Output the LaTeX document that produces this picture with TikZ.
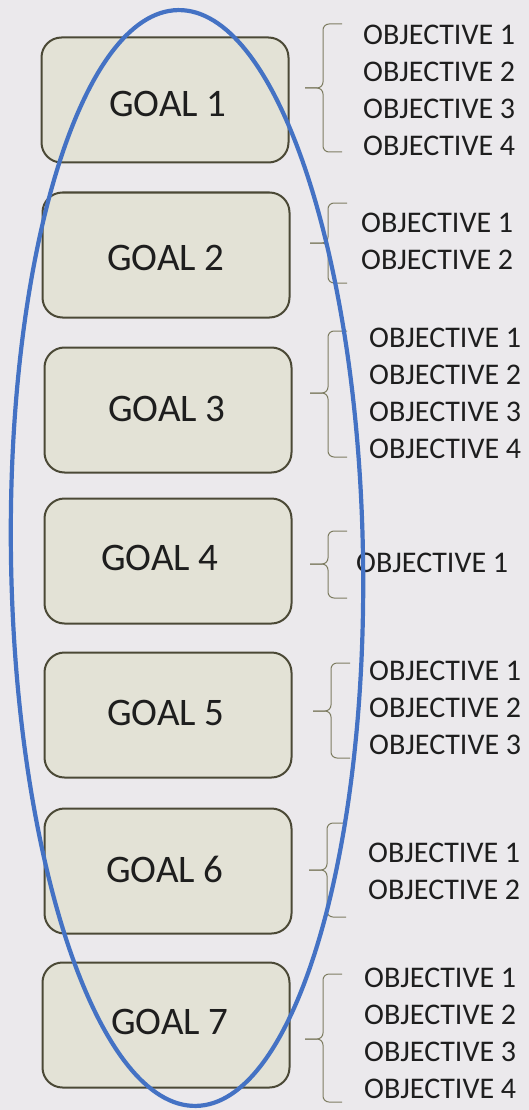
\documentclass[tikz,border=0pt]{standalone}
\usepackage{fontspec}
\setmainfont{Carlito}
\definecolor{bgcol}{HTML}{EBE9EC}
\definecolor{boxfill}{HTML}{E3E2D6}
\definecolor{boxline}{HTML}{4B4936}
\definecolor{bracecol}{HTML}{7E7D62}
\definecolor{ringcol}{HTML}{4472C4}
\definecolor{textcol}{HTML}{1E1E1E}
\tikzset{
  goalbox/.style = {draw = boxline, fill = boxfill, line width = 2pt, rounded corners = 20pt,
                    minimum width = 247pt, minimum height = 125pt, inner sep = 0pt},
  goaltext/.style = {inner sep = 0pt, text = textcol, font = \fontsize{39}{44}\selectfont},
  objtext/.style = {anchor = base west, inner sep = 0pt, text = textcol, font = \fontsize{30}{36}\selectfont},
  bracepath/.style = {draw = bracecol, line width = 1pt, rounded corners = 6pt}
}
\begin{document}
\begin{tikzpicture}[x = 1pt, y = -1pt]
    \fill[bgcol] (0, 0) rectangle (529, 1110);
    \useasboundingbox (0, 0) rectangle (529, 1110);
    \foreach \n/\cx/\cy/\tx/\ty in {1/165/100/168/104, 2/166/255/166/258, 3/168/410/167/409, 4/168/561/160/558,
                                   5/168/715/166/713, 6/168/871/165/869, 7/166/1025/170/1022}
       {\node[goalbox] (g\n) at (\cx, \cy) {};
        \node[goaltext] (t\n) at (\tx, \ty) {GOAL \n};}
    \foreach \n/\bx/\bt/\bm/\bb in {1/323/24/88/152, 2/328/203/243/283, 3/328/331/393/457, 4/328/531/564/598,
                                   5/331/663/711/758, 6/327/823/870/917, 7/323/974/1039/1102}
       {\draw[bracepath] (\bx + 19, \bt) -- (\bx, \bt) -- (\bx, \bm) -- (\bx - 18, \bm);
        \draw[bracepath] (\bx - 18, \bm) -- (\bx, \bm) -- (\bx, \bb) -- (\bx + 19, \bb);}
    \foreach \n/\tx/\ty/\k in {1/363/35/4, 2/361/223/2, 3/369/338/4, 4/356/563/1, 5/369/671/3, 6/368/853/2, 7/364/978/4}
    \foreach \i in {1,...,\k}
       {\pgfmathsetmacro{\yy}{\ty + 37 * (\i - 1) + 9.5}
        \node[objtext] (o\n-\i) at (\tx, \yy) {OBJECTIVE \i};}
    \draw[ringcol, line width = 4.2pt, rotate around = {0.94:(187, 558)}] (187, 558) ellipse (176pt and 548pt);
\end{tikzpicture}
\end{document}
